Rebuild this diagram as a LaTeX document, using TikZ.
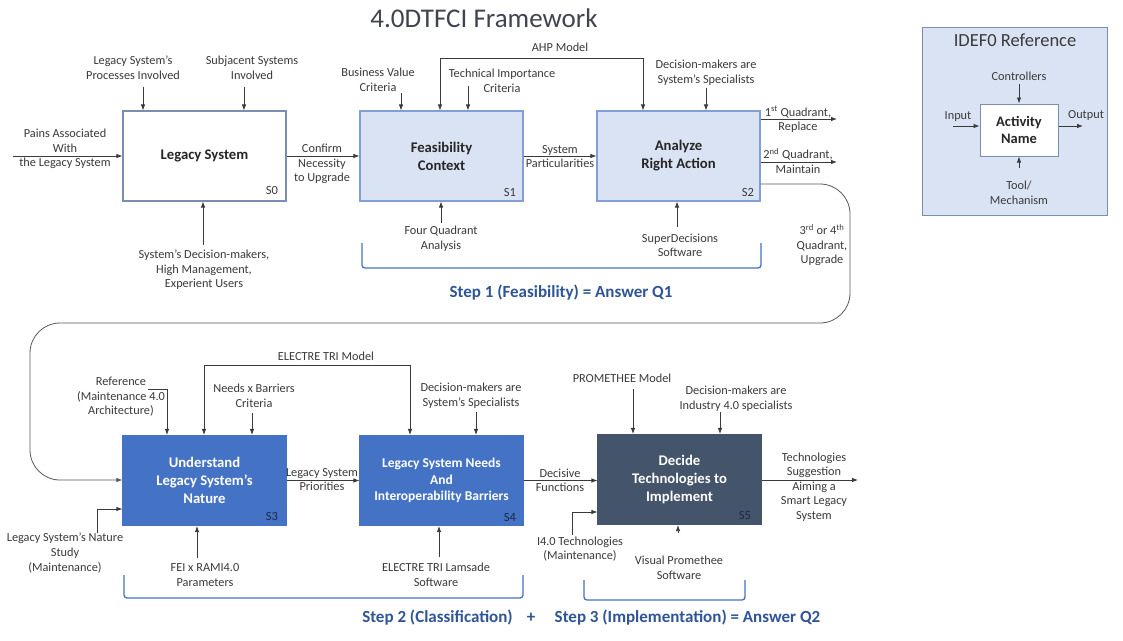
\documentclass[tikz,border=0pt]{standalone}
\usepackage{fontspec}
\setmainfont{Carlito}
\usetikzlibrary{arrows.meta}
\definecolor{ink}{HTML}{3A3A3A}
\definecolor{titleink}{HTML}{40444E}
\definecolor{paleblue}{HTML}{DAE3F3}
\definecolor{midblue}{HTML}{4472C4}
\definecolor{slate}{HTML}{44546A}
\definecolor{edgeblue}{HTML}{7F9FD6}
\definecolor{edgegray}{HTML}{7A8FB0}
\definecolor{stepblue}{HTML}{2F5597}
\definecolor{tagdark}{HTML}{1E2A40}

\tikzset{
  lbl/.style={font=\fontsize{12.3}{14.6}\selectfont, text=ink, align=center, inner sep=0pt},
  proc/.style={minimum width=163pt, minimum height=90pt, line width=1.1pt, align=center,
    font=\fontsize{14.7}{18}\selectfont\bfseries, inner sep=2pt},
  plainbox/.style={proc, draw=edgegray, fill=white, text=black!85},
  palebox/.style={proc, draw=edgeblue, fill=paleblue, text=black!85},
  deepbox/.style={proc, draw=midblue, fill=midblue, text=white},
  darkbox/.style={proc, draw=slate, fill=slate, text=white},
  tag/.style={font=\fontsize{12.5}{14}\selectfont, inner sep=0pt, text=ink},
  flow/.style={draw=ink, line width=0.8pt, -{Latex[length=6pt,width=4.5pt]}},
  twoway/.style={draw=ink, line width=0.8pt, {Latex[length=6pt,width=4.5pt]}-{Latex[length=6pt,width=4.5pt]}},
  bracket/.style={draw=midblue, line width=1.3pt, rounded corners=3pt},
  steptxt/.style={font=\fontsize{17}{20}\selectfont\bfseries, text=stepblue, inner sep=0pt},
}

\begin{document}
\begin{tikzpicture}[x=1pt,y=-1pt]
\useasboundingbox[fill=white] (0,0) rectangle (1123,640);

% ---------- title ----------
\node[font=\fontsize{27}{31}\selectfont, text=titleink, inner sep=0pt] (title) at (484,18.5) {4.0DTFCI Framework};

% ---------- process boxes ----------
\node[plainbox] (s0) at (204.5,156) {Legacy System};
\node[palebox]  (s1) at (441.5,156) {Feasibility\\Context};
\node[palebox]  (s2) at (678.5,156) {Analyze\\Right Action};
\node[deepbox]  (s3) at (204.5,480.5) {Understand\\Legacy System’s\\Nature};
\node[deepbox, font=\fontsize{13.5}{16.5}\selectfont\bfseries] (s4) at (441.5,480.5) {Legacy System Needs\\And\\Interoperability Barriers};
\node[darkbox]  (s5) at (679.5,479.5) {Decide\\Technologies to\\Implement};

\node[tag] (t0) at (272,190) {S0};
\node[tag] (t1) at (510,192) {S1};
\node[tag] (t2) at (748,192) {S2};
\node[tag, text=tagdark] (t3) at (272,516) {S3};
\node[tag, text=tagdark] (t4) at (510,517) {S4};
\node[tag, text=tagdark] (t5) at (745,515) {S5};

% ---------- labels, first row ----------
\node[lbl] (pain) at (65,149) {Pains Associated\\With\\the Legacy System};
\node[lbl] (c0a) at (133,68) {Legacy System’s\\Processes Involved};
\node[lbl] (c0b) at (252,68) {Subjacent Systems\\Involved};
\node[lbl] (m0) at (204,270) {System’s Decision-makers,\\High Management,\\Experient Users};
\node[lbl] (o0) at (322,164) {Confirm\\Necessity\\to Upgrade};
\node[lbl] (c1a) at (378,80) {Business Value\\Criteria};
\node[lbl] (ahp) at (560,47) {AHP Model};
\node[lbl] (c1b) at (502,81) {Technical Importance\\Criteria};
\node[lbl] (m1) at (441,239) {Four Quadrant\\Analysis};
\node[lbl] (o1) at (560,156.5) {System\\Particularities};
\node[lbl] (c2) at (706,73) {Decision-makers are\\System’s Specialists};
\node[lbl] (q1) at (798,119.5) {1\textsuperscript{st} Quadrant,\\Replace};
\node[lbl] (q2) at (798,161) {2\textsuperscript{nd} Quadrant,\\Maintain};
\node[lbl] (q34) at (822,245) {3\textsuperscript{rd} or 4\textsuperscript{th}\\Quadrant,\\Upgrade};
\node[lbl] (m2) at (680,245.5) {SuperDecisions\\Software};

% ---------- labels, second row ----------
\node[lbl] (etm) at (326,356) {ELECTRE TRI Model};
\node[lbl] (c3a) at (121,397) {Reference\\(Maintenance 4.0\\Architecture)};
\node[lbl] (c3b) at (254,396) {Needs x Barriers\\Criteria};
\node[lbl] (in3) at (65,553) {Legacy System’s Nature\\Study\\(Maintenance)};
\node[lbl] (m3) at (205,575) {FEI x RAMI4.0\\Parameters};
\node[lbl] (o3) at (322,479.5) {Legacy System\\Priorities};
\node[lbl] (c4) at (471,396) {Decision-makers are\\System’s Specialists};
\node[lbl] (m4) at (436,575) {ELECTRE TRI Lamsade\\Software};
\node[lbl] (o4) at (560,480.5) {Decisive\\Functions};
\node[lbl] (c5a) at (622,378) {PROMETHEE Model};
\node[lbl] (c5b) at (736,399) {Decision-makers are\\Industry 4.0 specialists};
\node[lbl] (in5) at (580,549) {I4.0 Technologies\\(Maintenance)};
\node[lbl] (m5) at (679,567.5) {Visual Promethee\\Software};
\node[lbl] (o5) at (814,487) {Technologies\\Suggestion\\Aiming a\\Smart Legacy\\System};

% ---------- free ends of connectors ----------
\coordinate (painS) at (13,156);
\coordinate (c0aS) at (143,87);
\coordinate (c0bS) at (244,87);
\coordinate (m0S) at (203,245);
\coordinate (c1aS) at (401,93);
\coordinate (ahpL) at (440,58);
\coordinate (ahpR) at (643,58);
\coordinate (c1bS) at (468,86);
\coordinate (m1S) at (441,223);
\coordinate (c2S) at (706,88);
\coordinate (m2S) at (677,227);
\coordinate (q1E) at (837,119);
\coordinate (q2E) at (837,162);
\coordinate (loopA) at (850,184);
\coordinate (loopB) at (850,323);
\coordinate (loopC) at (30,323);
\coordinate (loopD) at (30,480);
\coordinate (c3aS) at (148,389);
\coordinate (c3aK) at (167,389);
\coordinate (etmL) at (204,365);
\coordinate (etmR) at (410,365);
\coordinate (c3bS) at (252,413);
\coordinate (in3S) at (97,533);
\coordinate (in3K) at (97,509);
\coordinate (m3S) at (197,558);
\coordinate (c4S) at (476,412);
\coordinate (m4S) at (439,557);
\coordinate (c5aS) at (633,389);
\coordinate (c5bS) at (720,412);
\coordinate (in5S) at (572,535);
\coordinate (in5K) at (572,512);
\coordinate (m5S) at (678,533);
\coordinate (o5E) at (858,480);

% ---------- connectors, first row ----------
\draw[flow] (painS) -- (s0.west);
\draw[flow] (c0aS) -- (c0aS |- s0.north);
\draw[flow] (c0bS) -- (c0bS |- s0.north);
\draw[flow] (m0S) -- (m0S |- s0.south);
\draw[flow] (s0.east) -- (s1.west);
\draw[flow] (c1aS) -- (c1aS |- s1.north);
\draw[twoway] (ahpL |- s1.north) -- (ahpL) -- (ahpR) -- (ahpR |- s2.north);
\draw[flow] (c1bS) -- (c1bS |- s1.north);
\draw[flow] (m1S) -- (m1S |- s1.south);
\draw[flow] (s1.east) -- (s2.west);
\draw[flow] (c2S) -- (c2S |- s2.north);
\draw[flow] (m2S) -- (m2S |- s2.south);
\draw[flow] (s2.east |- q1E) -- (q1E);
\draw[flow] (s2.east |- q2E) -- (q2E);

% the upgrade branch loops back to the second row
\draw[flow, draw=ink!85, rounded corners=30pt] (s2.east |- loopA) -- (loopA) -- (loopB) -- (loopC) -- (loopD) -- (s3.west |- loopD);

% ---------- connectors, second row ----------
\draw[flow] (c3aS) -- (c3aK) -- (c3aK |- s3.north);
\draw[twoway] (etmL |- s3.north) -- (etmL) -- (etmR) -- (etmR |- s4.north);
\draw[flow] (c3bS) -- (c3bS |- s3.north);
\draw[flow] (in3S) -- (in3K) -- (s3.west |- in3K);
\draw[flow] (m3S) -- (m3S |- s3.south);
\draw[flow] (s3.east) -- (s4.west);
\draw[flow] (c4S) -- (c4S |- s4.north);
\draw[flow] (m4S) -- (m4S |- s4.south);
\draw[flow] (s4.east) -- (s5.west |- s4.east);
\draw[flow] (c5aS) -- (c5aS |- s5.north);
\draw[flow] (c5bS) -- (c5bS |- s5.north);
\draw[flow] (in5S) -- (in5K) -- (s5.west |- in5K);
\draw[flow] (m5S) -- (m5S |- s5.south);
\draw[flow] (s5.east |- o5E) -- (o5E);

% ---------- step brackets ----------
\draw[bracket] (362,243) -- (362,268) -- (761,268) -- (761,243);
\node[steptxt] (step1) at (561,293) {Step 1 (Feasibility) = Answer Q1};
\draw[bracket] (124,575) -- (124,598) -- (523,598) -- (523,575);
\draw[bracket] (584,580) -- (584,600) -- (745,600) -- (745,580);
\node[steptxt] (step2) at (437.5,618) {Step 2 (Classification)};
\node[steptxt] (plus) at (531,618) {+};
\node[steptxt] (step3) at (687.5,618) {Step 3 (Implementation) = Answer Q2};

% ---------- IDEF0 legend ----------
\node[draw=edgegray, fill=paleblue, line width=1pt, minimum width=185pt, minimum height=188pt] (legend) at (1014.5,121) {};
\node[font=\fontsize{18.5}{22}\selectfont, text=ink, inner sep=0pt] (legendT) at (1015,40) {IDEF0 Reference};
\node[draw=edgegray, fill=white, line width=1pt, minimum width=78pt, minimum height=52pt,
      align=center, font=\fontsize{14.5}{17}\selectfont\bfseries, text=black!85] (act) at (1019,130) {Activity\\Name};
\node[lbl] (ctl) at (1019,76) {Controllers};
\node[lbl] (inp) at (958,117) {Input};
\node[lbl] (outp) at (1086,115) {Output};
\node[lbl] (tool) at (1019,192.5) {Tool/\\Mechanism};
\coordinate (ctlS) at (1019,84);
\coordinate (inpS) at (953,126);
\coordinate (outpE) at (1083,126);
\coordinate (toolS) at (1019,168);
\draw[flow] (ctlS) -- (act.north);
\draw[flow] (inpS) -- (act.west |- inpS);
\draw[flow] (act.east |- outpE) -- (outpE);
\draw[flow] (toolS) -- (act.south);
\end{tikzpicture}
\end{document}
